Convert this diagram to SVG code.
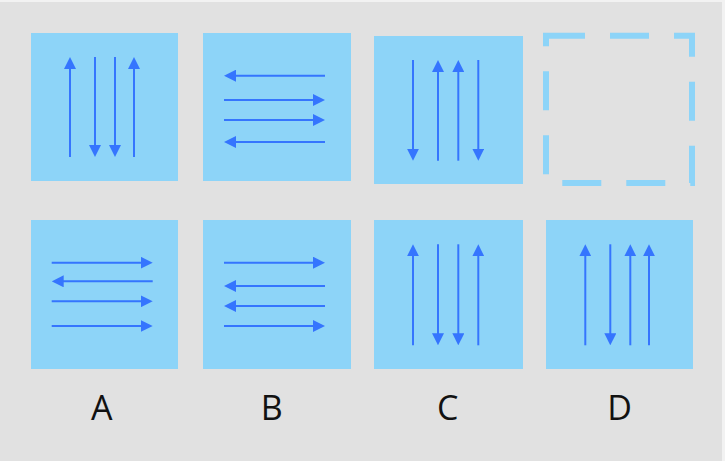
<svg xmlns="http://www.w3.org/2000/svg" width="725" height="461" viewBox="0 0 725 461">
  <style>
    .box{fill:#8dd4f8}
    .arr{stroke:#3575fe;stroke-width:2;fill:none;marker-end:url(#ah)}
    .lbl{font-family:"Open Sans","Liberation Sans",sans-serif;font-size:34px;fill:#111;text-anchor:middle}
  </style>
  <defs>
    <marker id="ah" markerUnits="userSpaceOnUse" markerWidth="12" markerHeight="12" viewBox="0 0 12 12" refX="8" refY="6" orient="auto">
      <path d="M0,0 L12,6 L0,12 z" fill="#3575fe"/>
    </marker>
  </defs>
  <rect x="0" y="0" width="725" height="461" fill="#f2f2f2"/>
  <rect x="0" y="2" width="722" height="459" fill="#e1e1e1"/>

  <g id="top-A">
    <rect class="box" x="31" y="33" width="147" height="148"/>
  </g>
  <g id="top-B">
    <rect class="box" x="203" y="33" width="148" height="148"/>
  </g>
  <g id="top-C">
    <rect class="box" x="374" y="36" width="149" height="148"/>
  </g>
  <g id="top-D">
    <rect x="546" y="35.7" width="146" height="147.3" fill="none" stroke="#8dd4f8" stroke-width="6" stroke-dasharray="39 25"/>
  </g>
  <g id="bottom-A">
    <rect class="box" x="31" y="220" width="147" height="149"/>
  </g>
  <g id="bottom-B">
    <rect class="box" x="203" y="220" width="148" height="149"/>
  </g>
  <g id="bottom-C">
    <rect class="box" x="374" y="220" width="149" height="149"/>
  </g>
  <g id="bottom-D">
    <rect class="box" x="546" y="220" width="147" height="149"/>
  </g>

  <g id="connectors">
    <!-- top A -->
    <path class="arr" d="M70,157 V61"/>
    <path class="arr" d="M95,57 V153"/>
    <path class="arr" d="M115,57 V153"/>
    <path class="arr" d="M134,157 V61"/>
    <!-- top B -->
    <path class="arr" d="M325,75.7 H228"/>
    <path class="arr" d="M224,100 H321"/>
    <path class="arr" d="M224,120 H321"/>
    <path class="arr" d="M325,142 H228"/>
    <!-- top C -->
    <path class="arr" d="M413,60 V156.7"/>
    <path class="arr" d="M438,160.7 V64"/>
    <path class="arr" d="M458.3,160.7 V64"/>
    <path class="arr" d="M478.3,60 V156.7"/>
    <!-- bottom A -->
    <path class="arr" d="M51.7,262.7 H148.7"/>
    <path class="arr" d="M152.7,281.3 H55.7"/>
    <path class="arr" d="M51.7,301.3 H148.7"/>
    <path class="arr" d="M51.7,326 H148.7"/>
    <!-- bottom B -->
    <path class="arr" d="M224,262.7 H321"/>
    <path class="arr" d="M325,286 H228"/>
    <path class="arr" d="M325,306 H228"/>
    <path class="arr" d="M224,326 H321"/>
    <!-- bottom C -->
    <path class="arr" d="M413,345.3 V248.3"/>
    <path class="arr" d="M438,244.3 V341.3"/>
    <path class="arr" d="M458.3,244.3 V341.3"/>
    <path class="arr" d="M478.3,345.3 V248.3"/>
    <!-- bottom D -->
    <path class="arr" d="M585.3,345.3 V248.3"/>
    <path class="arr" d="M610.3,244.3 V341.3"/>
    <path class="arr" d="M630.3,345.3 V248.3"/>
    <path class="arr" d="M649,345.3 V248.3"/>
  </g>

  <g id="labels">
    <text class="lbl" x="101.7" y="420">A</text>
    <text class="lbl" x="271.7" y="420">B</text>
    <text class="lbl" x="447.7" y="420">C</text>
    <text class="lbl" x="619.7" y="420">D</text>
  </g>
</svg>
